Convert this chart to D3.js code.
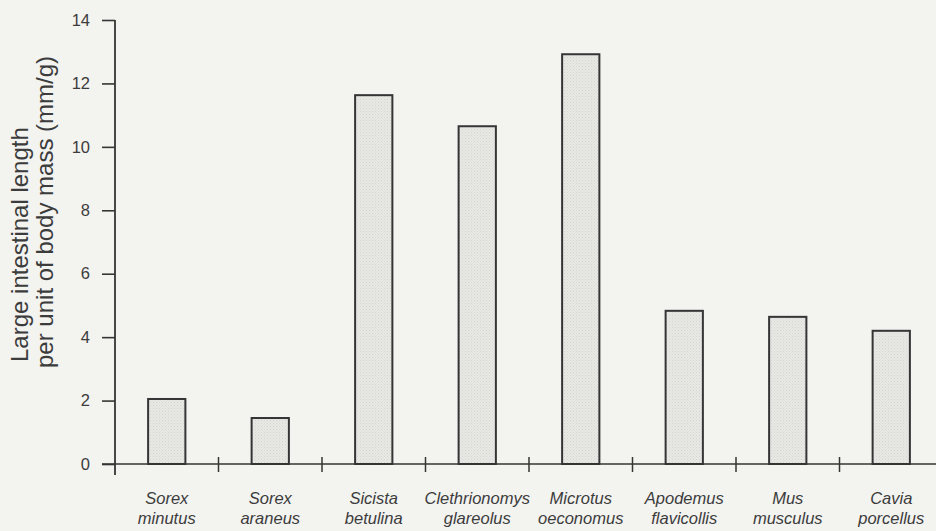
<!DOCTYPE html>
<html>
<head>
<meta charset="utf-8">
<script src="https://cdn.jsdelivr.net/npm/d3@7"></script>
<style>
  html, body { margin: 0; padding: 0; background: #f3f3f0; }
  svg { display: block; }
  text { font-family: "Liberation Sans", Arial, sans-serif; fill: #3c3c3c; }
</style>
</head>
<body>
<svg id="chart" width="936" height="531"></svg>
<script>
// Large intestinal length per unit of body mass, by species
const genus   = ["Sorex", "Sorex", "Sicista", "Clethrionomys", "Microtus", "Apodemus", "Mus", "Cavia"];
const species = ["minutus", "araneus", "betulina", "glareolus", "oeconomus", "flavicollis", "musculus", "porcellus"];
const values  = [2.05, 1.45, 11.63, 10.65, 12.92, 4.83, 4.64, 4.2];
const yTicks  = [0, 2, 4, 6, 8, 10, 12, 14];
const yTitle  = ["Large intestinal length", "per unit of body mass (mm/g)"];

const svg = d3.select("#chart");
const W = 936, H = 531;
const plotLeft = 115, plotBottom = 464, plotTop = 20;
const bandW = 103.5;

const keys = genus.map((g, i) => g + " " + species[i]);

const x = d3.scaleBand()
  .domain(keys)
  .range([plotLeft, plotLeft + bandW * keys.length])
  .paddingInner(0.64)
  .paddingOuter(0.32);

const y = d3.scaleLinear().domain([0, 14]).range([plotBottom, plotTop]);

const ink = "#353535";

// stipple pattern for bar fill
const defs = svg.append("defs");
const pat = defs.append("pattern")
  .attr("id", "stipple")
  .attr("width", 3).attr("height", 3)
  .attr("patternUnits", "userSpaceOnUse");
pat.append("rect").attr("width", 3).attr("height", 3).attr("fill", "#e8e8e5");
pat.append("rect").attr("x", 0).attr("y", 0).attr("width", 1).attr("height", 1).attr("fill", "#d4d4d1");
pat.append("rect").attr("x", 1.5).attr("y", 1.5).attr("width", 1).attr("height", 1).attr("fill", "#dadad7");

// bars
svg.append("g")
  .selectAll("rect")
  .data(values)
  .join("rect")
  .attr("x", (d, i) => x(keys[i]))
  .attr("y", d => y(d))
  .attr("width", x.bandwidth())
  .attr("height", d => y(0) - y(d))
  .attr("fill", "url(#stipple)")
  .attr("stroke", ink)
  .attr("stroke-width", 2);

// y axis
const yAxis = d3.axisLeft(y)
  .tickValues(yTicks)
  .tickSize(13)
  .tickPadding(12)
  .tickFormat(d3.format("d"));

const gy = svg.append("g")
  .attr("transform", `translate(${plotLeft},0)`)
  .call(yAxis);
gy.select(".domain").remove();
gy.append("line")
  .attr("x1", 0).attr("x2", 0)
  .attr("y1", y(14)).attr("y2", plotBottom + 11)
  .attr("stroke", ink).attr("stroke-width", 1.8);
gy.selectAll(".tick line").attr("stroke", ink).attr("stroke-width", 1.6);
gy.selectAll(".tick text")
  .attr("fill", "#454545")
  .style("font-size", "16.5px")
  .style("font-family", "'Liberation Sans', Arial, sans-serif");

// x axis: baseline and category separators
const gx = svg.append("g");
gx.append("line")
  .attr("x1", plotLeft - 13).attr("x2", W)
  .attr("y1", plotBottom).attr("y2", plotBottom)
  .attr("stroke", ink).attr("stroke-width", 1.6);

const bounds = keys.slice(1).map(k => x(k) - x.step() * x.paddingInner() / 2);
gx.selectAll("line.sep")
  .data(bounds)
  .join("line")
  .attr("class", "sep")
  .attr("x1", d => d).attr("x2", d => d)
  .attr("y1", plotBottom - 7).attr("y2", plotBottom + 8)
  .attr("stroke", ink).attr("stroke-width", 1.5);

// category labels, genus above species
const labels = svg.append("g")
  .selectAll("g")
  .data(keys)
  .join("g")
  .attr("transform", (k) => `translate(${x(k) + x.bandwidth() / 2},0)`);
labels.append("text")
  .attr("text-anchor", "middle")
  .attr("font-style", "italic")
  .style("font-size", "16.5px")
  .attr("y", 504)
  .text((k, i) => genus[i]);
labels.append("text")
  .attr("text-anchor", "middle")
  .attr("font-style", "italic")
  .style("font-size", "16.5px")
  .attr("y", 523.5)
  .text((k, i) => species[i]);

// y axis title, two lines reading bottom to top
const yt = svg.append("g").attr("transform", "rotate(-90)");
yt.append("text")
  .attr("text-anchor", "start")
  .style("font-size", "24px")
  .attr("x", -362).attr("y", 28)
  .text(yTitle[0]);
yt.append("text")
  .attr("text-anchor", "start")
  .style("font-size", "24px")
  .attr("x", -368).attr("y", 53)
  .text(yTitle[1]);
</script>
</body>
</html>
